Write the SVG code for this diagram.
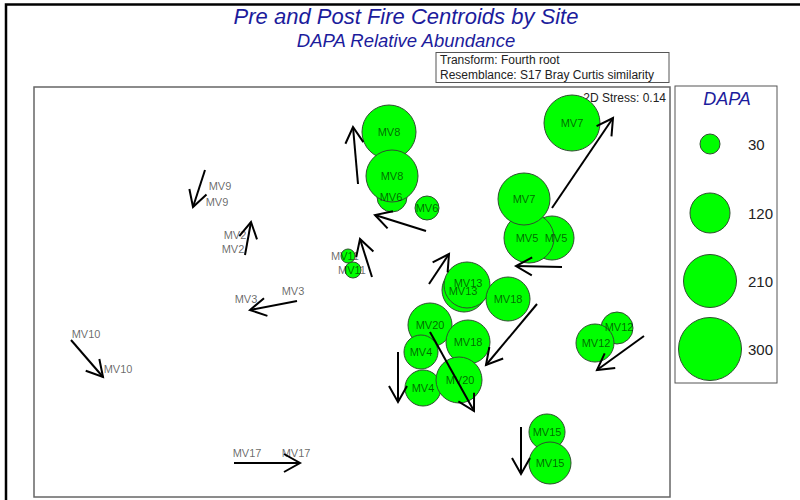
<svg xmlns="http://www.w3.org/2000/svg" width="800" height="500" viewBox="0 0 800 500">
  <style>
    .title { font-family: "Liberation Sans", Arial, sans-serif; font-style: italic; fill: #1c1c9c; text-anchor: middle; }
    .note { font-family: "Liberation Sans", Arial, sans-serif; font-size: 12px; fill: #222; }
    .frame { fill: #fff; stroke: #666; stroke-width: 1.5; }
    .bubble { fill: #00ff00; stroke: #2f4f2f; stroke-width: 1; }
    .lbl { font-family: "Liberation Sans", Arial, sans-serif; font-size: 11px; fill: #000; fill-opacity: 0.6; text-anchor: middle; }
    .key { font-family: "Liberation Sans", Arial, sans-serif; font-size: 15px; fill: #222; }
    .arrow { fill: none; stroke: #000; stroke-width: 2; marker-end: url(#head); }
  </style>
  <defs>
    <marker id="head" viewBox="0 0 20 20" refX="17" refY="10" markerWidth="20" markerHeight="20" markerUnits="userSpaceOnUse" orient="auto" overflow="visible">
      <path d="M1,1 L17,10 L1,19" fill="none" stroke="#000" stroke-width="2"/>
    </marker>
  </defs>

  <rect width="800" height="500" fill="#fff"/>
  <!-- outer frame (top and left edges) -->
  <path d="M6,500 V4.5 H800" fill="none" stroke="#000" stroke-width="2.5"/>

  <!-- titles -->
  <text class="title" x="406" y="24" font-size="22">Pre and Post Fire Centroids by Site</text>
  <text class="title" x="406" y="47" font-size="18.5">DAPA Relative Abundance</text>

  <!-- transform / resemblance box -->
  <g id="info">
    <rect x="436" y="52.5" width="233" height="30" fill="#fff" stroke="#555" stroke-width="1"/>
    <text class="note" x="440" y="64">Transform: Fourth root</text>
    <text class="note" x="440" y="79">Resemblance: S17 Bray Curtis similarity</text>
  </g>

  <!-- plot area -->
  <rect class="frame" x="34" y="87" width="636" height="410"/>
  <text class="note" x="666" y="102" text-anchor="end">2D Stress: 0.14</text>

  <!-- bubbles: centroids sized by DAPA abundance -->
  <g id="MV8">
    <circle class="bubble" cx="389" cy="132" r="27"/>
    <text class="lbl" x="389" y="136">MV8</text>
  </g>
  <g id="MV6">
    <circle class="bubble" cx="392" cy="197" r="15"/>
    <circle class="bubble" cx="427" cy="208" r="12"/>
    <text class="lbl" x="427" y="212">MV6</text>
  </g>
  <g id="MV8-post">
    <circle class="bubble" cx="392" cy="176" r="26"/>
    <text class="lbl" x="392" y="180">MV8</text>
    <text class="lbl" x="391" y="201">MV6</text>
  </g>
  <g id="MV7">
    <circle class="bubble" cx="572" cy="123" r="28"/>
    <text class="lbl" x="572" y="127">MV7</text>
  </g>
  <g id="MV5">
    <circle class="bubble" cx="552" cy="238" r="22"/>
    <circle class="bubble" cx="529" cy="238" r="25"/>
    <text class="lbl" x="556" y="242">MV5</text>
    <text class="lbl" x="527" y="242">MV5</text>
  </g>
  <g id="MV7-post">
    <circle class="bubble" cx="524" cy="199" r="26"/>
    <text class="lbl" x="524" y="203">MV7</text>
  </g>
  <g id="MV11">
    <circle class="bubble" cx="348" cy="256" r="7"/>
    <circle class="bubble" cx="353" cy="270" r="8"/>
    <text class="lbl" x="345" y="260">MV11</text>
    <text class="lbl" x="352" y="274">MV11</text>
  </g>
  <g id="MV13">
    <circle class="bubble" cx="464" cy="290" r="22"/>
    <circle class="bubble" cx="467" cy="285" r="23"/>
    <text class="lbl" x="468" y="287">MV13</text>
    <text class="lbl" x="463" y="295">MV13</text>
  </g>
  <g id="MV18">
    <circle class="bubble" cx="508" cy="299" r="22"/>
    <text class="lbl" x="508" y="303">MV18</text>
  </g>
  <g id="MV20">
    <circle class="bubble" cx="430" cy="325" r="22"/>
    <text class="lbl" x="430" y="329">MV20</text>
  </g>
  <g id="MV18-post">
    <circle class="bubble" cx="468" cy="342" r="22"/>
    <text class="lbl" x="468" y="346">MV18</text>
  </g>
  <g id="MV4">
    <circle class="bubble" cx="421" cy="352" r="17"/>
    <circle class="bubble" cx="423" cy="388" r="18"/>
    <text class="lbl" x="421" y="356">MV4</text>
    <text class="lbl" x="423" y="392">MV4</text>
  </g>
  <g id="MV20-post">
    <circle class="bubble" cx="459" cy="380" r="23"/>
    <text class="lbl" x="460" y="384">MV20</text>
  </g>
  <g id="MV12">
    <circle class="bubble" cx="617" cy="328" r="16"/>
    <circle class="bubble" cx="595" cy="343" r="19"/>
    <text class="lbl" x="619" y="331">MV12</text>
    <text class="lbl" x="596" y="347">MV12</text>
  </g>
  <g id="MV15">
    <circle class="bubble" cx="547" cy="432" r="18"/>
    <circle class="bubble" cx="550" cy="463" r="21"/>
    <text class="lbl" x="547" y="436">MV15</text>
    <text class="lbl" x="550" y="467">MV15</text>
  </g>

  <!-- sites with zero abundance: labels only -->
  <g id="MV9">
    <text class="lbl" x="220" y="190">MV9</text>
    <text class="lbl" x="217" y="206">MV9</text>
  </g>
  <g id="MV2">
    <text class="lbl" x="235" y="239">MV2</text>
    <text class="lbl" x="233" y="253">MV2</text>
  </g>
  <g id="MV3">
    <text class="lbl" x="293" y="295">MV3</text>
    <text class="lbl" x="246" y="303">MV3</text>
  </g>
  <g id="MV10">
    <text class="lbl" x="86" y="338">MV10</text>
    <text class="lbl" x="118" y="373">MV10</text>
  </g>
  <g id="MV17">
    <text class="lbl" x="247" y="457">MV17</text>
    <text class="lbl" x="296" y="457">MV17</text>
  </g>

  <!-- pre to post fire shifts -->
  <g id="connectors">
    <path class="arrow" d="M358,184 L353,127"/>
    <path class="arrow" d="M426,231 L375,215"/>
    <path class="arrow" d="M552,208 L613,118"/>
    <path class="arrow" d="M562,267 L516,266"/>
    <path class="arrow" d="M372,277 L360,239"/>
    <path class="arrow" d="M429,284 L449,254"/>
    <path class="arrow" d="M537,304 L486,365"/>
    <path class="arrow" d="M430,332 L474,411"/>
    <path class="arrow" d="M398,352 L398,402"/>
    <path class="arrow" d="M644,336 L597,370"/>
    <path class="arrow" d="M521,427 L521,474"/>
    <path class="arrow" d="M205,170 L193,207"/>
    <path class="arrow" d="M245,255 L251,222"/>
    <path class="arrow" d="M297,301 L250,310"/>
    <path class="arrow" d="M71,340 L103,377"/>
    <path class="arrow" d="M234,463 L300,463"/>
  </g>

  <!-- bubble size legend -->
  <g id="legend">
    <rect x="675" y="86" width="102" height="297" fill="#fff" stroke="#555" stroke-width="1"/>
    <text class="title" x="727" y="105" font-size="18">DAPA</text>
    <circle class="bubble" cx="710" cy="144" r="10"/>
    <text class="key" x="748" y="150">30</text>
    <circle class="bubble" cx="710" cy="213" r="20"/>
    <text class="key" x="748" y="219">120</text>
    <circle class="bubble" cx="710" cy="281" r="26.5"/>
    <text class="key" x="748" y="287">210</text>
    <circle class="bubble" cx="710" cy="349" r="31.5"/>
    <text class="key" x="748" y="355">300</text>
  </g>
</svg>
